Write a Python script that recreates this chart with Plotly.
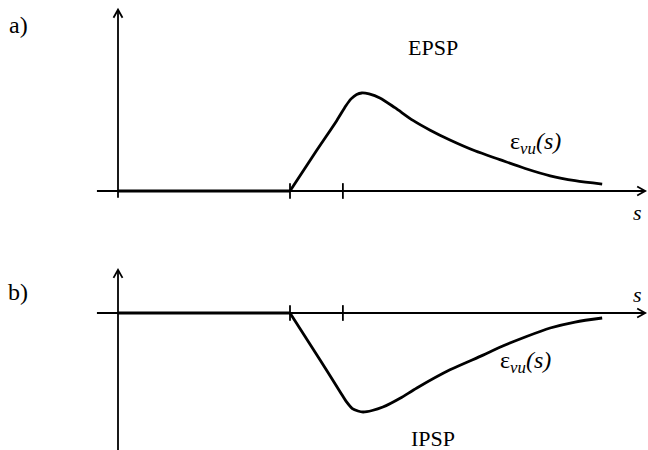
import plotly.graph_objects as go

# ---- data (abstract units: s along time axis, v = potential) ----
s_flat = [0.0, 4.0]
v_flat = [0.0, 0.0]

s_epsp = [4.0, 4.63, 5.09, 5.30, 5.42, 5.55, 5.67, 5.84, 6.09, 6.44, 6.86, 7.26, 7.72, 8.30, 8.88, 9.47, 10.05, 10.63, 11.26]
v_epsp = [0.0, 0.42, 0.72, 0.87, 0.94, 0.985, 1.00, 0.99, 0.95, 0.85, 0.72, 0.62, 0.52, 0.41, 0.32, 0.23, 0.155, 0.105, 0.07]

s_ipsp = [4.0, 4.70, 5.16, 5.32, 5.45, 5.58, 5.70, 5.91, 6.16, 6.56, 6.95, 7.72, 8.49, 8.88, 9.47, 10.05, 10.63, 11.26]
v_ipsp = [0.0, -0.48, -0.80, -0.91, -0.975, -1.00, -1.01, -0.995, -0.96, -0.87, -0.765, -0.58, -0.43, -0.35, -0.245, -0.153, -0.092, -0.051]

tick_positions = [4.0, 5.23]
s_axis_ends = [-0.49, 12.26]
panel_labels = ["a)", "b)"]
pulse_labels = ["EPSP", "IPSP"]
kernel_label = "ε<sub><i>vu</i></sub><i>(s)</i>"
axis_label = "<i>s</i>"

FONT = "Liberation Serif, DejaVu Serif, serif"
BLACK = "#000000"

fig = go.Figure()

for xr, yr, s_curve, v_curve in [("x", "y", s_epsp, v_epsp), ("x2", "y2", s_ipsp, v_ipsp)]:
    fig.add_trace(go.Scatter(x=s_flat, y=v_flat, mode="lines", line=dict(color=BLACK, width=3.2),
                             xaxis=xr, yaxis=yr, hoverinfo="skip"))
    fig.add_trace(go.Scatter(x=s_curve, y=v_curve, mode="lines",
                             line=dict(color=BLACK, width=2.8, shape="spline", smoothing=0.8),
                             xaxis=xr, yaxis=yr, hoverinfo="skip"))

shapes = []
# arrowhead size in data units (x: 43 px/unit, y: 98 px/unit)
hx, hy = 8 / 43, 4.5 / 98
vx, vy = 4.5 / 43, 8 / 98
AX = dict(color=BLACK, width=1.8)
for xr, yr, ybottom, ytop in [("x", "y", -0.07, 1.85), ("x2", "y2", -1.40, 0.44)]:
    x0, x1 = s_axis_ends
    shapes.append(dict(type="line", x0=x0, x1=x1, y0=0, y1=0, xref=xr, yref=yr, line=AX))
    shapes.append(dict(type="path", xref=xr, yref=yr, line=AX,
                       path=f"M {x1 - hx} {hy} L {x1} 0 L {x1 - hx} {-hy}"))
    shapes.append(dict(type="line", x0=0, x1=0, y0=ybottom, y1=ytop, xref=xr, yref=yr, line=AX))
    shapes.append(dict(type="path", xref=xr, yref=yr, line=AX,
                       path=f"M {-vx} {ytop - vy} L 0 {ytop} L {vx} {ytop - vy}"))
    for t in tick_positions:
        shapes.append(dict(type="line", x0=t, x1=t, y0=-0.08, y1=0.08, xref=xr, yref=yr, line=AX))

annotations = [
    dict(text=panel_labels[0], x=18 / 648, y=1 - 25 / 450, xref="paper", yref="paper", size=24),
    dict(text=pulse_labels[0], x=7.33, y=1.46, xref="x", yref="y", size=22),
    dict(text=kernel_label, x=9.70, y=0.49, xref="x", yref="y", size=24),
    dict(text=axis_label, x=12.09, y=-0.22, xref="x", yref="y", size=22),
    dict(text=panel_labels[1], x=18 / 648, y=1 - 292 / 450, xref="paper", yref="paper", size=24),
    dict(text=pulse_labels[1], x=7.33, y=-1.28, xref="x2", yref="y2", size=22),
    dict(text=kernel_label, x=9.48, y=-0.50, xref="x2", yref="y2", size=24),
    dict(text=axis_label, x=12.09, y=0.19, xref="x2", yref="y2", size=22),
]
for a in annotations:
    size = a.pop("size")
    a.update(showarrow=False, xanchor="center", yanchor="middle",
             font=dict(family=FONT, size=size, color=BLACK))

hidden = dict(visible=False, showgrid=False, zeroline=False, fixedrange=True)
x_range = [-118 / 43, (648 - 118) / 43]

fig.update_layout(
    width=648, height=450,
    margin=dict(l=0, r=0, t=0, b=0),
    paper_bgcolor="white", plot_bgcolor="white",
    font=dict(family=FONT, size=20, color=BLACK),
    showlegend=False,
    xaxis=dict(domain=[0, 1], range=x_range, anchor="y", **hidden),
    yaxis=dict(domain=[0.5, 1], range=[-0.347, 1.949], anchor="x", **hidden),
    xaxis2=dict(domain=[0, 1], range=x_range, anchor="y2", **hidden),
    yaxis2=dict(domain=[0, 0.5], range=[-1.398, 0.898], anchor="x2", **hidden),
    shapes=shapes,
    annotations=annotations,
)

fig.write_html("out.html")
